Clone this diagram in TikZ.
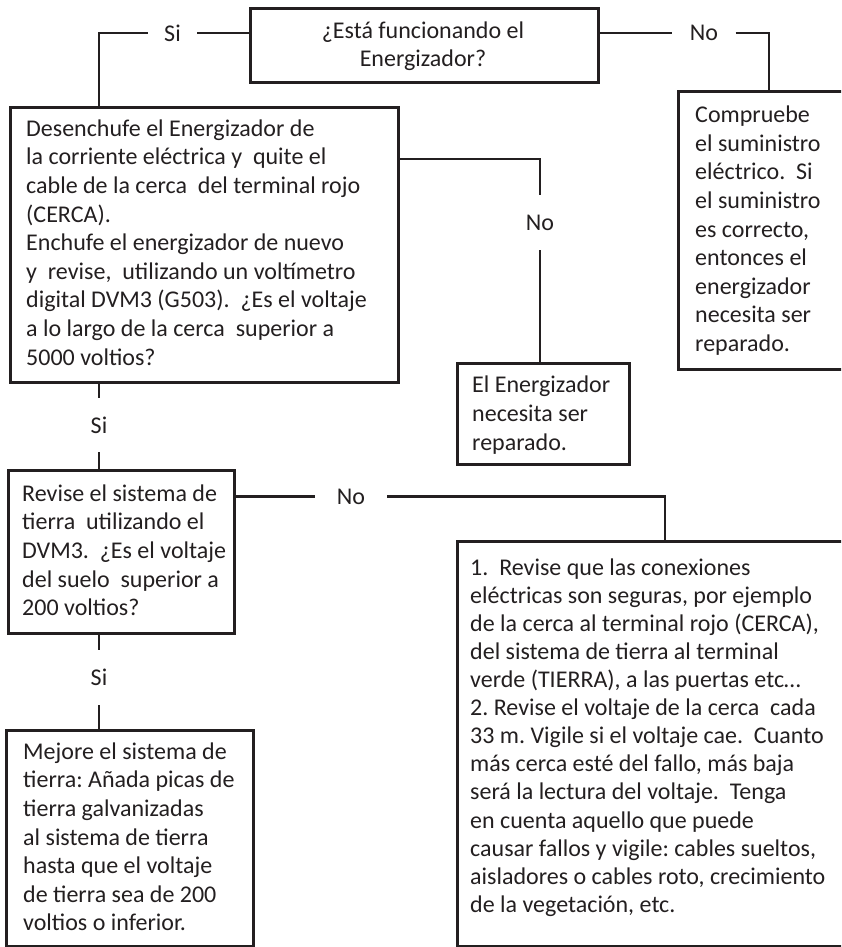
\documentclass[tikz,border=0pt]{standalone}
\usepackage{fontspec}
\setmainfont{Carlito}
\definecolor{ink}{HTML}{231F20}
\frenchspacing
\newcommand\myfont[1]{\fontsize{24}{#1}\selectfont}
\newcommand\rs{\spaceskip=0pt\xspaceskip=0pt\noindent\strut}
\begin{document}
\begin{tikzpicture}[x=1pt,y=-1pt,
  conn/.style={draw=ink, line width=2.6pt, line join=miter},
  box/.style={draw=ink, line width=2.6pt, anchor=north west, inner sep=0pt, minimum width=#1},
  box/.default=10pt,
  txt/.style={anchor=north west, inner sep=0pt, align=left, text width=420pt, text=ink,
    font=\myfont{28.6}},
  ctxt/.style={anchor=north, inner sep=0pt, align=center, text=ink,
    font=\myfont{28.6}},
  lbl/.style={inner sep=0pt, text=ink, font=\myfont{28.6}}
]
\useasboundingbox (0,0) rectangle (841,947);
\clip (0,0) rectangle (841,947);

% boxes
\node[box=348pt, minimum height=74pt]  (b1) at (249,7)   {};
\node[box=388pt, minimum height=275pt] (b2) at (9,106)   {};
\node[box=175pt, minimum height=278pt] (br) at (677,90)  {};
\node[box=172pt, minimum height=101pt] (b3) at (456,362) {};
\node[box=226pt, minimum height=163pt] (b4) at (7,469)   {};
\node[box=395pt, minimum height=405pt] (b5) at (456,540) {};
\node[box=247pt, minimum height=216pt] (b6) at (5,729)   {};

% texts
\node[ctxt] (t1) at (423,18) {\strut¿Está funcionando el\\Energizador?};
\node[txt] (t2) at (26,116) {\rs Desenchufe el Energizador de\\
la corriente eléctrica y \ quite el\\
cable de la cerca \ del terminal rojo\\
(CERCA).\\
Enchufe el energizador de nuevo\\
y \ revise, \ utilizando un voltímetro\\
digital DVM3 (G503). \ ¿Es el voltaje\\
a lo largo de la cerca \ superior a\\
5000 voltios?};
\node[txt] (tr) at (695,102.5) {\rs Compruebe\\el suministro\\eléctrico. \ Si\\el suministro\\es correcto,\\entonces el\\energizador\\necesita ser\\reparado.};
\node[txt] (t3) at (472,372.7) {\rs El Energizador\\necesita ser\\reparado.};
\node[txt] (t4) at (22,481) {\rs Revise el sistema de\\tierra \ utilizando el\\DVM3. \ ¿Es el voltaje\\del suelo \ superior a\\200 voltios?};
\node[txt, font=\myfont{28.1}] (t5) at (470,555.3) {\rs 1. \ Revise que las conexiones\\
eléctricas son seguras, por ejemplo\\
de la cerca al terminal rojo (CERCA),\\
del sistema de tierra al terminal\\
verde (TIERRA), a las puertas etc…\\
2. Revise el voltaje de la cerca \ cada\\
33 m. Vigile si el voltaje cae. \ Cuanto\\
más cerca esté del fallo, más baja\\
será la lectura del voltaje. \ Tenga\\
en cuenta aquello que puede\\
causar fallos y vigile: cables sueltos,\\
aisladores o cables roto, crecimiento\\
de la vegetación, etc.};
\node[txt] (t6) at (23,739) {\rs Mejore el sistema de\\tierra: Añada picas de\\tierra galvanizadas\\al sistema de tierra\\hasta que el voltaje\\de tierra sea de 200\\voltios o inferior.};

% labels on connectors
\node[lbl, minimum width=49pt]  (si1) at (172.5,33) {Si};
\node[lbl, minimum width=63pt]  (no1) at (704,33)   {No};
\node[lbl, minimum height=55pt] (no2) at (540,222.5) {No};
\node[lbl, minimum height=54pt] (si2) at (99,425)   {Si};
\node[lbl, minimum width=72pt]  (no3) at (351,496.5) {No};
\node[lbl, minimum height=55pt] (si3) at (99,677.5) {Si};

\coordinate (rtop) at (769,90);
\coordinate (k1) at (540,159);
\coordinate (k2) at (665,540);

% connectors
\draw[conn] (b1.west |- si1) -- (si1.east);
\draw[conn] (si1.west) -| (b2.north -| si2);
\draw[conn] (b1.east |- no1) -- (no1.west);
\draw[conn] (no1.east) -| (rtop);
\draw[conn] (b2.east |- k1) -| (no2.north);
\draw[conn] (no2.south) -- (b3.north -| no2);
\draw[conn] (b2.south -| si2) -- (si2.north);
\draw[conn] (si2.south) -- (b4.north -| si2);
\draw[conn] (b4.east |- no3) -- (no3.west);
\draw[conn] (no3.east) -| (k2);
\draw[conn] (b4.south -| si3) -- (si3.north);
\draw[conn] (si3.south) -- (b6.north -| si3);
\end{tikzpicture}
\end{document}
